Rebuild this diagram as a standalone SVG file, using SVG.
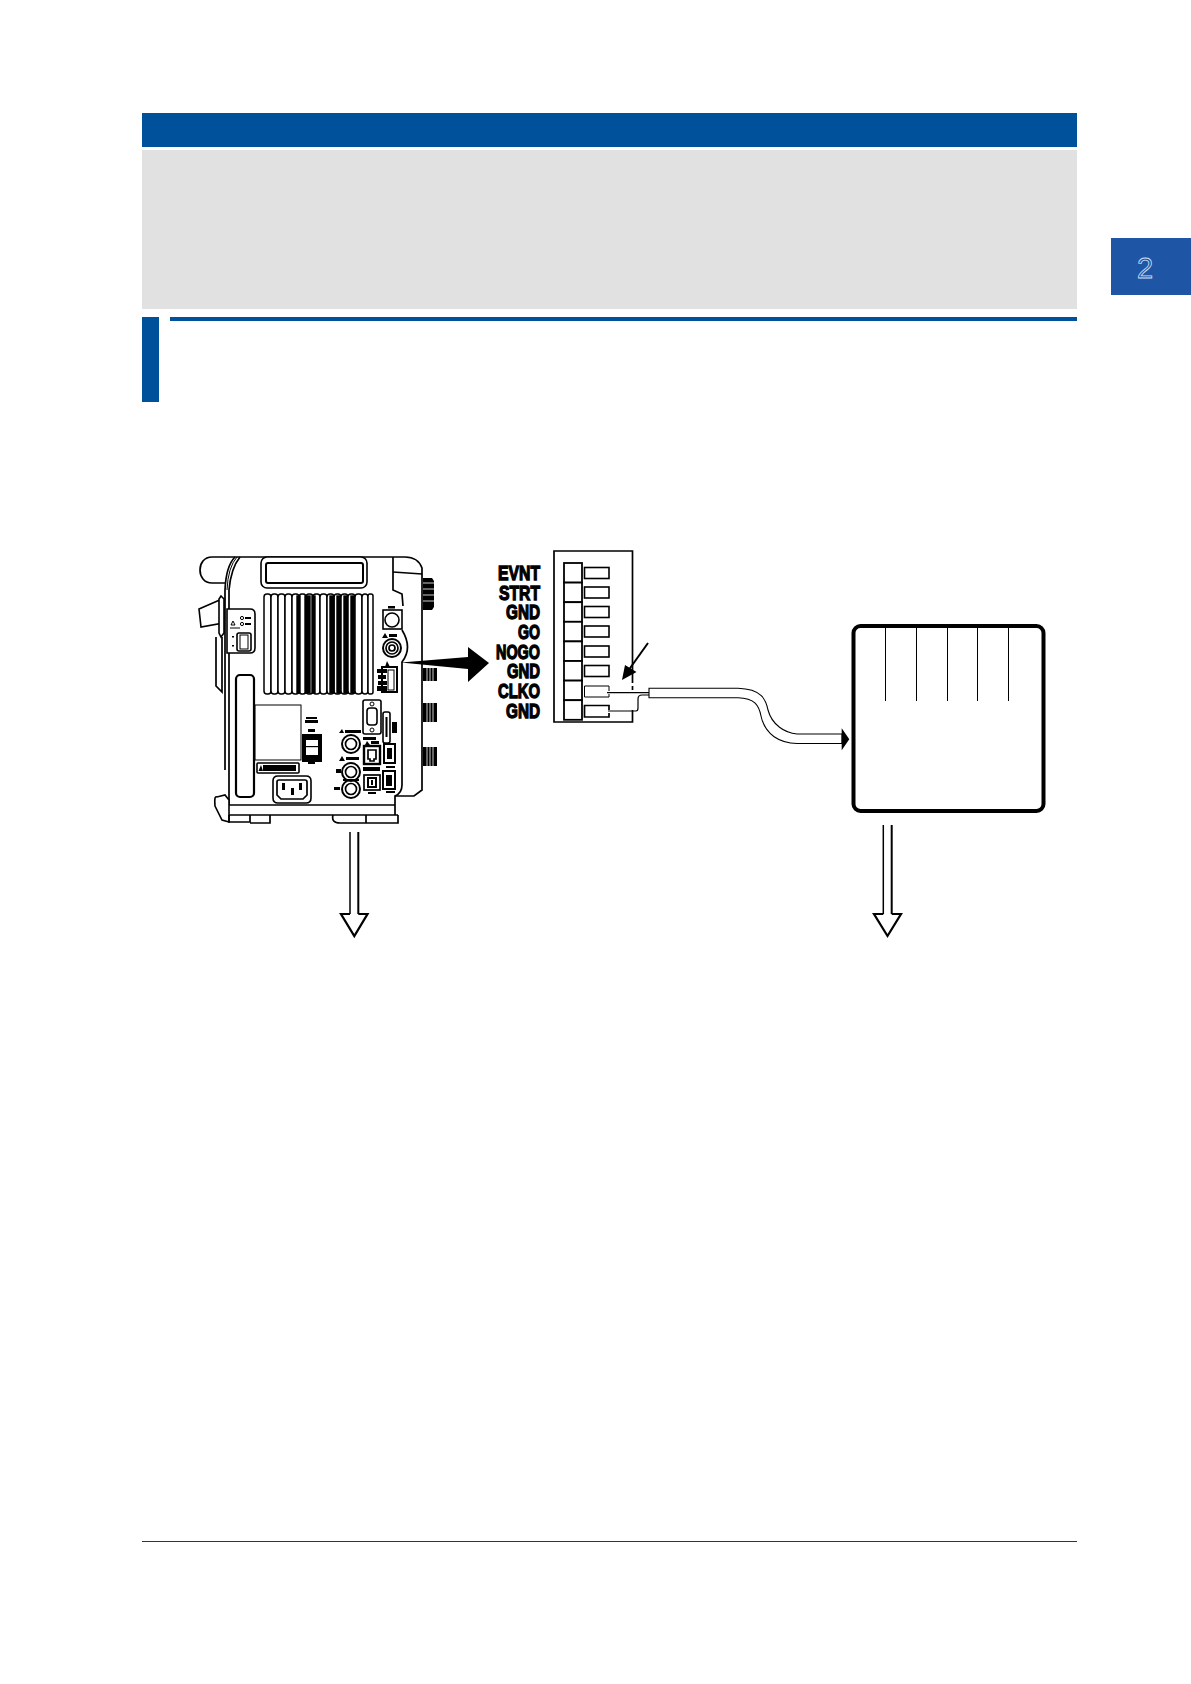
<svg xmlns="http://www.w3.org/2000/svg" width="1191" height="1684" viewBox="0 0 1191 1684">
<style>
.blue{fill:#00519c}
.l{fill:none;stroke:#000;stroke-width:1.7}
.t{fill:none;stroke:#000;stroke-width:1}
.w{fill:#fff;stroke:#000;stroke-width:1.6}
.b{fill:#000}
.rib{fill:#fff;stroke:#000;stroke-width:1.5}
.rk{fill:#000;stroke:#000;stroke-width:1.4}
.lab{font-family:"Liberation Sans",Arial,sans-serif;font-weight:700;font-size:20px;fill:#000;stroke:#000;stroke-width:1.3;text-anchor:end}
.cell{fill:#fff;stroke:#000;stroke-width:1.8}
.st{fill:none;stroke:#fff;stroke-width:.8}
</style>
<rect width="1191" height="1684" fill="#fff"/>
<g id="page">
<rect class="blue" x="142" y="113" width="935" height="34"/>
<rect x="142" y="150" width="935" height="159" fill="#e1e1e1"/>
<rect class="blue" x="142" y="317" width="17" height="85"/>
<rect class="blue" x="170" y="317" width="907" height="4"/>
<rect x="142" y="1541" width="935" height="1" fill="#333"/>
<rect x="1111" y="238" width="80" height="57" fill="#1f55a5"/>
<text x="1145" y="278" font-family="'Liberation Sans',Arial,sans-serif" font-size="29" text-anchor="middle" fill="#1f55a5" stroke="#cfe0f5" stroke-width=".8">2</text>
</g>
<g id="device">
<path class="l" d="M235 557H405Q418 557 422 568V790L414 796H395V815M393 557V590L402 594L403 606"/>
<path class="l" d="M393 572L422 574"/>
<path class="l" d="M402 630Q413 648 402 662V785Q402 793 395 796"/>
<path class="l" d="M235 557Q226 566 225 590V770"/>
<path class="l" d="M240 557Q231 568 229 590V805"/>
<path class="t" d="M237 557Q228 567 227 590"/>
<path class="l" d="M229 805H395M227 815H398"/>
<path class="l" d="M235 557H212C196 557 196 583 212 583H225"/>
<path class="w" d="M199 609L222 599L223 623L201 627Z"/>
<path class="w" d="M221 596L224 599V633L221 637L219 633V599Z"/>
<path class="l" d="M216 637V686L222 692V637"/>
<path class="w" d="M217 797Q214 795 215 806L222 820L229 822V800L225 795Z"/>
<path class="l" d="M229 815V822H250V815M250 823H270V815M333 815Q331 823 340 823H398V815"/>
<path class="l" d="M366 815V823"/>
<rect class="w" x="261" y="557" width="106" height="31" rx="6"/>
<rect x="266" y="563" width="97" height="20" rx="2" fill="#fff" stroke="#000" stroke-width="2"/>
<g id="vent">
<rect class="rib" x="264" y="594" width="7" height="100" rx="3"/>
<rect class="rib" x="271" y="594" width="7" height="100" rx="3"/>
<rect class="rib" x="278" y="594" width="7" height="100" rx="3"/>
<rect class="rib" x="285" y="594" width="7" height="100" rx="3"/>
<rect class="rib" x="292" y="594" width="7" height="100" rx="3"/>
<rect class="rib" x="299" y="594" width="7" height="100" rx="3"/>
<rect class="rk" x="297" y="596" width="3" height="97"/>
<rect class="rib" x="306" y="594" width="7" height="100" rx="3"/>
<rect class="rk" x="305" y="596" width="5" height="97"/>
<rect class="rib" x="313" y="594" width="7" height="100" rx="3"/>
<rect class="rk" x="312" y="596" width="3" height="97"/>
<rect class="rib" x="320" y="594" width="7" height="100" rx="3"/>
<rect class="rib" x="327" y="594" width="7" height="100" rx="3"/>
<rect class="rib" x="334" y="594" width="7" height="100" rx="3"/>
<rect class="rk" x="330" y="596" width="4" height="97"/>
<rect class="rib" x="341" y="594" width="7" height="100" rx="3"/>
<rect class="rk" x="337" y="596" width="3" height="97"/>
<rect class="rk" x="344" y="596" width="4" height="97"/>
<rect class="rib" x="348" y="594" width="7" height="100" rx="3"/>
<rect class="rk" x="351" y="596" width="3" height="97"/>
<rect class="rib" x="355" y="594" width="7" height="100" rx="3"/>
<rect class="rib" x="362" y="594" width="6" height="100" rx="3"/>
<rect class="rib" x="368" y="594" width="5" height="100" rx="2"/>
</g>
<g id="lan">
<path class="w" d="M227 609H250Q255 609 255 614V648Q255 653 250 653H227Z"/>
<rect class="w" x="237" y="633" width="14" height="18" rx="2"/>
<rect x="240" y="635" width="8" height="14" fill="#fff" stroke="#000"/>
<circle class="t" cx="242" cy="618" r="1.6"/><circle class="t" cx="242" cy="624" r="1.6"/>
<rect class="b" x="245" y="617" width="6" height="2"/><rect class="b" x="245" y="623" width="6" height="2"/>
<path class="t" d="M231 625L233 621L235 625ZM230 628H240"/>
<rect class="b" x="232" y="636" width="2" height="1.5"/><rect class="b" x="232" y="645" width="2" height="1.5"/>
</g>
<rect x="236" y="675" width="18" height="122" rx="4" fill="#fff" stroke="#000" stroke-width="2.200"/>
<rect class="t" x="255" y="705" width="46" height="55"/>
<rect class="b" x="306" y="717" width="11" height="2"/><rect class="b" x="305" y="720" width="13" height="3"/>
<rect class="b" x="302" y="734" width="20" height="28"/>
<rect x="306" y="740" width="12" height="15" fill="#fff"/><rect class="b" x="306" y="746" width="12" height="1.2"/>
<rect class="b" x="308" y="761" width="7" height="3"/><rect class="b" x="308" y="729" width="7" height="3"/>
<rect class="w" x="257" y="763" width="42" height="10" rx="1"/>
<rect class="b" x="263" y="765" width="33" height="6"/><path class="b" d="M258.500 771L261 765L263 771Z"/>
<path class="w" d="M278 776H306Q311 776 311 781V798Q311 803 306 803H278Q273 803 273 798V781Q273 776 278 776Z"/>
<path class="l" d="M277 782Q277 780 279 780H305Q307 780 307 782V795L303 799H281L277 795Z"/>
<rect class="b" x="282" y="783" width="3" height="7"/><rect class="b" x="299" y="783" width="3" height="7"/><rect class="b" x="291" y="788" width="3" height="7"/>
<g id="ports">
<rect class="w" x="383" y="610" width="19" height="19"/>
<circle class="w" cx="392" cy="620" r="7"/>
<rect class="b" x="388" y="606" width="7" height="2.500"/>
<path class="b" d="M382 638L385 633L388 638Z"/><rect class="b" x="389" y="634" width="8" height="3"/>
<circle class="l" cx="392" cy="648" r="9" style="stroke-width:2"/><circle class="l" cx="392" cy="648" r="6"/><circle class="l" cx="392" cy="648" r="3"/>
<path class="b" d="M385 667L387 661L390 667Z"/>
<rect class="l" x="382" y="667" width="15" height="25" style="stroke-width:2"/>
<rect class="b" x="377" y="669" width="10" height="4"/><rect class="b" x="378" y="675" width="8" height="4"/><rect class="b" x="378" y="681" width="9" height="4"/><rect class="b" x="377" y="686" width="10" height="5"/>
<rect class="t" x="388" y="670" width="6" height="20"/>
<rect class="w" x="363" y="700" width="18" height="34" rx="2"/>
<rect class="w" x="367" y="708" width="10" height="17" rx="3"/>
<circle class="t" cx="372" cy="704" r="2"/><circle class="t" cx="372" cy="730" r="2"/>
<rect class="w" x="383" y="712" width="7" height="31" rx="2"/><rect class="b" x="385.500" y="717" width="2" height="20"/>
<rect class="b" x="392" y="722" width="5" height="11"/>
<path class="b" d="M339 733L342 729L344 733Z"/><rect class="b" x="345" y="730" width="16" height="3"/>
<circle class="l" cx="351" cy="744" r="9" style="stroke-width:2"/><circle class="l" cx="351" cy="744" r="5.500"/>
<path class="b" d="M339 761L342 756L345 761Z"/><rect class="b" x="346" y="757" width="13" height="3"/>
<rect class="b" x="336" y="769" width="5" height="4"/><rect class="b" x="334" y="787" width="6" height="3"/>
<circle class="l" cx="351" cy="772" r="9" style="stroke-width:2"/><circle class="l" cx="351" cy="772" r="5.500"/>
<circle class="l" cx="351" cy="789" r="9" style="stroke-width:2"/><circle class="l" cx="351" cy="789" r="5.500"/>
<rect class="b" x="343" y="779" width="16" height="2"/>
<rect class="b" x="363" y="737" width="13" height="3"/><path class="b" d="M365 745L367 741L370 745Z"/><rect class="b" x="371" y="741" width="8" height="3"/>
<rect class="l" x="364" y="746" width="16" height="18" style="stroke-width:2.400"/>
<path class="l" d="M368 750H376V759H374V761H370V759H368Z"/>
<rect class="b" x="363" y="767" width="17" height="4"/>
<rect class="l" x="364" y="775" width="16" height="15"/>
<rect x="368" y="778" width="8" height="9" fill="#fff" stroke="#000" stroke-width="2"/><rect class="b" x="371" y="780" width="2" height="5"/>
<rect class="b" x="368" y="792" width="8" height="2"/>
<rect class="l" x="384" y="744" width="11" height="19" style="stroke-width:2"/><rect class="b" x="387" y="748" width="5" height="11"/><rect class="b" x="386" y="766" width="9" height="2"/>
<rect class="l" x="383" y="771" width="12" height="18" style="stroke-width:2"/><rect class="b" x="386" y="775" width="6" height="11"/><rect class="b" x="386" y="791" width="9" height="2"/>
</g>
<g id="knobs">
<path class="b" d="M423 578H432L434 581V607L432 610H423Z"/>
<path class="st" d="M423 583H434M423 589H434M423 595H434M423 601H434"/>
<path class="b" d="M423 668H437V681H423Z"/><path class="st" d="M427 668V681M430 668V681M433 668V681"/>
<path class="b" d="M423 703H437V722H423Z"/><path class="st" d="M427 703V722M430 703V722M433 703V722"/>
<path class="b" d="M423 747H437V766H423Z"/><path class="st" d="M427 747V766M430 747V766M433 747V766"/>
</g>
</g>
<g id="terminal">
<path class="l" d="M632.500 683V551H554V722H632.500V710M632.500 686V690"/>
<rect class="cell" x="564" y="563" width="18" height="19.600"/>
<rect class="cell" x="564" y="582.600" width="18" height="19.600"/>
<rect class="cell" x="564" y="602.200" width="18" height="19.600"/>
<rect class="cell" x="564" y="621.800" width="18" height="19.600"/>
<rect class="cell" x="564" y="641.400" width="18" height="19.600"/>
<rect class="cell" x="564" y="661" width="18" height="19.600"/>
<rect class="cell" x="564" y="680.600" width="18" height="19.600"/>
<rect class="cell" x="564" y="700.200" width="18" height="19.600"/>
<rect class="w" x="584.500" y="567.500" width="24.500" height="11"/>
<rect class="w" x="584.500" y="587" width="24.500" height="11"/>
<rect class="w" x="584.500" y="606.500" width="24.500" height="11"/>
<rect class="w" x="584.500" y="626" width="24.500" height="11"/>
<rect class="w" x="584.500" y="646" width="24.500" height="11"/>
<rect class="w" x="584.500" y="665.500" width="24.500" height="11"/>
<path class="t" d="M609 691V686H584.500V697H609V694"/>
<path class="l" d="M609 710V705.500H584.500V717H609V713"/>
<text class="lab" x="540" y="580" textLength="42" lengthAdjust="spacingAndGlyphs">EVNT</text>
<text class="lab" x="540" y="599.500" textLength="41" lengthAdjust="spacingAndGlyphs">STRT</text>
<text class="lab" x="540" y="619" textLength="34" lengthAdjust="spacingAndGlyphs">GND</text>
<text class="lab" x="540" y="639" textLength="22" lengthAdjust="spacingAndGlyphs">GO</text>
<text class="lab" x="540" y="658.500" textLength="44" lengthAdjust="spacingAndGlyphs">NOGO</text>
<text class="lab" x="540" y="678" textLength="33" lengthAdjust="spacingAndGlyphs">GND</text>
<text class="lab" x="540" y="698" textLength="42" lengthAdjust="spacingAndGlyphs">CLKO</text>
<text class="lab" x="540" y="717.500" textLength="34" lengthAdjust="spacingAndGlyphs">GND</text>
</g>
<g id="instrument">
<rect x="853.500" y="626" width="190" height="185" rx="7" fill="#fff" stroke="#000" stroke-width="4"/>
<path class="t" d="M885.500 627V701M916.500 627V701M947.500 627V701M977.500 627V701M1008.500 627V701"/>
</g>
<g id="connectors">
<path class="b" d="M401 662.500L468 657V647L489 663L468 682V669Z"/>
<path class="l" d="M648 643L628 671" style="stroke-width:2"/>
<path class="b" d="M622 680L625 665L636.500 672Z"/>
<path class="t" d="M607 692.700H650" style="stroke-width:1.200"/>
<path class="t" d="M608 711H636Q638 711 638 708V699Q638 695 642 695H650" style="stroke-width:1.200"/>
<path fill="#fff" stroke="#000" stroke-width="1.100" d="M649 688.300H738C762 689 766 700 768 710C772 725 785 733 797 734H842V743.500H797C780 743 765 735 761 716C759 706 755 698 738 697.700H649Z"/>
<path class="b" d="M841.700 728.300L849.300 739.300L841.700 750.300Z"/>
<path d="M350 832V914" fill="none" stroke="#000" stroke-width="1.500"/>
<path d="M358.300 832V914" fill="none" stroke="#000" stroke-width="2"/>
<path d="M350 914H341L354.300 936L367.500 914H358.300" fill="none" stroke="#000" stroke-width="2.200"/>
<path d="M883.300 825V914" fill="none" stroke="#000" stroke-width="1.500"/>
<path d="M891.700 825V914" fill="none" stroke="#000" stroke-width="2"/>
<path d="M883.300 914H874L887.500 936L901 914H891.700" fill="none" stroke="#000" stroke-width="2.200"/>
</g>
</svg>
